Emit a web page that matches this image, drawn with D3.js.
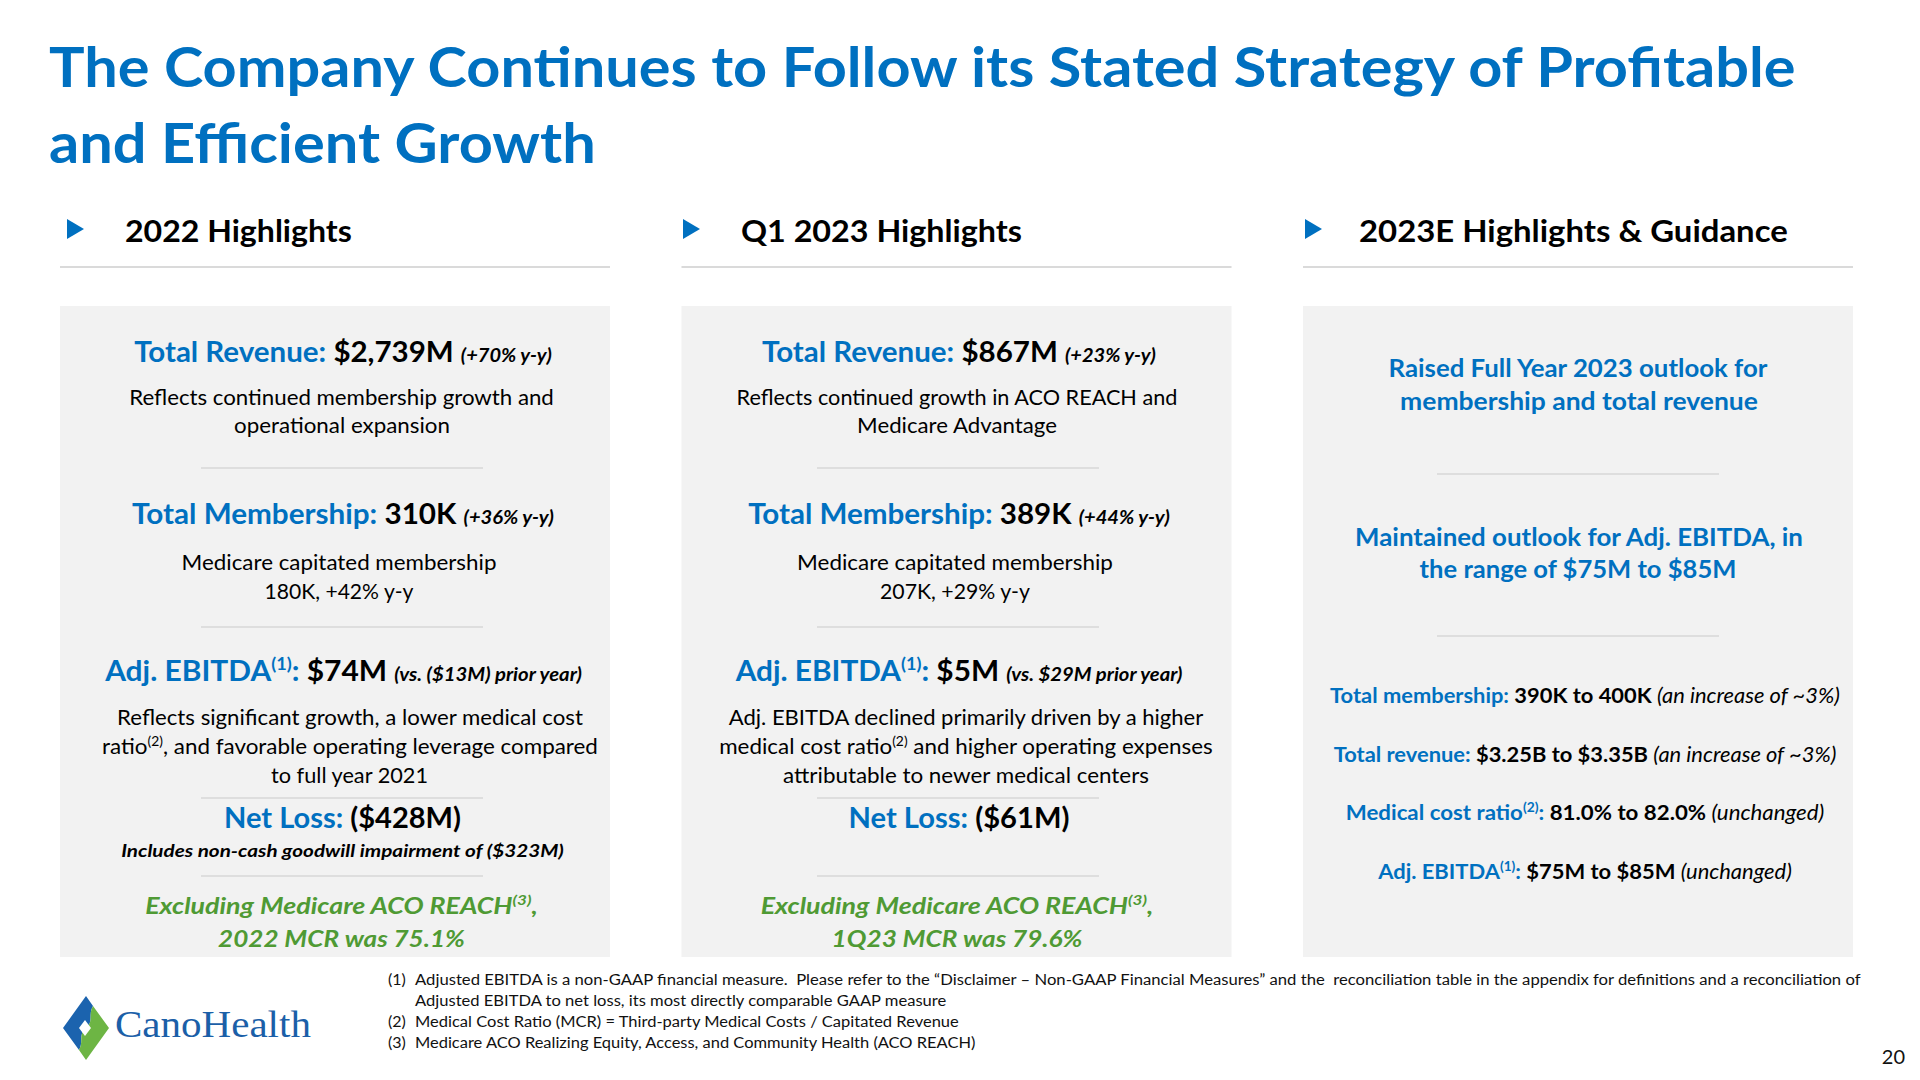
<!DOCTYPE html>
<html>
<head>
<meta charset="utf-8">
<script src="https://cdn.jsdelivr.net/npm/d3@7"></script>
<style>
  html, body { margin: 0; padding: 0; background: #fff; }
  svg { display: block; }
  text { white-space: pre; font-family: Lato, "Open Sans", sans-serif; }
</style>
</head>
<body>
<svg id="slide" width="1920" height="1080"></svg>
<script>
// ---------------- content ----------------
const titleLines = [
  "The Company Continues to Follow its Stated Strategy of Profitable",
  "and Efficient Growth"
];
const sectionHeaders = ["2022 Highlights", "Q1 2023 Highlights", "2023E Highlights & Guidance"];

const highlights2022 = [
  [["Total Revenue: ", "L"], ["$2,739M ", "V"], ["(+70% y-y)", "I"]],
  [["Reflects continued membership growth and", "R"]],
  [["operational expansion", "R"]],
  [["Total Membership: ", "L"], ["310K ", "V"], ["(+36% y-y)", "I"]],
  [["Medicare capitated membership", "R"]],
  [["180K, +42% y-y", "R"]],
  [["Adj. EBITDA", "L"], ["(1)", "LS"], [": ", "L"], ["$74M ", "V"], ["(vs. ($13M) prior year)", "I"]],
  [["Reflects significant growth, a lower medical cost", "R"]],
  [["ratio", "R"], ["(2)", "RS"], [", and favorable operating leverage compared", "R"]],
  [["to full year 2021", "R"]],
  [["Net Loss: ", "L"], ["($428M)", "V"]],
  [["Includes non-cash goodwill impairment of ($323M)", "B"]],
  [["Excluding Medicare ACO REACH", "G"], ["(3)", "GS"], [",", "G"]],
  [["2022 MCR was 75.1%", "G"]]
];

const highlightsQ1 = [
  [["Total Revenue: ", "L"], ["$867M ", "V"], ["(+23% y-y)", "I"]],
  [["Reflects continued growth in ACO REACH and", "R"]],
  [["Medicare Advantage", "R"]],
  [["Total Membership: ", "L"], ["389K ", "V"], ["(+44% y-y)", "I"]],
  [["Medicare capitated membership", "R"]],
  [["207K, +29% y-y", "R"]],
  [["Adj. EBITDA", "L"], ["(1)", "LS"], [": ", "L"], ["$5M ", "V"], ["(vs. $29M prior year)", "I"]],
  [["Adj. EBITDA declined primarily driven by a higher", "R"]],
  [["medical cost ratio", "R"], ["(2)", "RS"], [" and higher operating expenses", "R"]],
  [["attributable to newer medical centers", "R"]],
  [["Net Loss: ", "L"], ["($61M)", "V"]],
  [["Excluding Medicare ACO REACH", "G"], ["(3)", "GS"], [",", "G"]],
  [["1Q23 MCR was 79.6%", "G"]]
];

const guidance2023 = [
  [["Raised Full Year 2023 outlook for", "H"]],
  [["membership and total revenue", "H"]],
  [["Maintained outlook for Adj. EBITDA, in", "H"]],
  [["the range of $75M to $85M", "H"]],
  [["Total membership: ", "L3"], ["390K to 400K ", "V3"], ["(an increase of ~3%)", "N3"]],
  [["Total revenue: ", "L3"], ["$3.25B to $3.35B ", "V3"], ["(an increase of ~3%)", "N3"]],
  [["Medical cost ratio", "L3"], ["(2)", "L3S"], [": ", "L3"], ["81.0% to 82.0% ", "V3"], ["(unchanged)", "N3"]],
  [["Adj. EBITDA", "L3"], ["(1)", "L3S"], [": ", "L3"], ["$75M to $85M ", "V3"], ["(unchanged)", "N3"]]
];

const footnoteMarks = ["(1)", "", "(2)", "(3)"];
const footnoteTexts = [
  "Adjusted EBITDA is a non-GAAP financial measure.  Please refer to the \u201CDisclaimer \u2013 Non-GAAP Financial Measures\u201D and the  reconciliation table in the appendix for definitions and a reconciliation of",
  "Adjusted EBITDA to net loss, its most directly comparable GAAP measure",
  "Medical Cost Ratio (MCR) = Third-party Medical Costs / Capitated Revenue",
  "Medicare ACO Realizing Equity, Access, and Community Health (ACO REACH)"
];
const logoText = "CanoHealth";
const pageNumber = "20";

// ---------------- styles ----------------
const BLUE = "#0070C0", GREEN = "#4F9A34", GREY_LINE = "#DADADA", PANEL = "#F2F2F2";
const STY = {
  L:   {fs: 28, w: 700, fill: BLUE},
  V:   {fs: 28, w: 700, fill: "#000"},
  I:   {fs: 19, w: 700, it: true, fill: "#000"},
  LS:  {fs: 17, w: 700, fill: BLUE, sup: 11},
  R:   {fs: 21, w: 400, fill: "#000"},
  RS:  {fs: 13, w: 400, fill: "#000", sup: 8},
  B:   {fs: 17, w: 700, it: true, fill: "#000"},
  G:   {fs: 22, w: 700, it: true, fill: GREEN},
  GS:  {fs: 14, w: 700, it: true, fill: GREEN, sup: 9},
  H:   {fs: 24, w: 700, fill: BLUE},
  L3:  {fs: 21, w: 700, fill: BLUE},
  V3:  {fs: 21, w: 700, fill: "#000"},
  N3:  {fs: 21, w: 400, it: true, fill: "#000"},
  L3S: {fs: 13, w: 700, fill: BLUE, sup: 8}
};

const svg = d3.select("#slide");
svg.append("rect").attr("width", 1920).attr("height", 1080).attr("fill", "#fff");

// draw a rich text line, anchored at (x,y), squeezed/stretched to targetW
function richLine(parent, segs, x, y, targetW, anchor) {
  const g = parent.append("g");
  const t = g.append("text").attr("text-anchor", anchor || "middle");
  let cur = 0;
  segs.forEach(([txt, k]) => {
    const s = STY[k];
    const want = s.sup ? -s.sup : 0;
    t.append("tspan")
      .attr("dy", want - cur)
      .attr("font-size", s.fs)
      .attr("font-weight", s.w)
      .attr("font-style", s.it ? "italic" : "normal")
      .attr("fill", s.fill)
      .text(txt);
    cur = want;
  });
  const w = t.node().getComputedTextLength();
  const sx = targetW && w > 0 ? targetW / w : 1;
  g.attr("transform", `translate(${x},${y}) scale(${sx},1)`);
  return g;
}
function plainLine(parent, txt, x, y, targetW, opts) {
  const g = parent.append("g");
  const t = g.append("text")
    .attr("text-anchor", opts.anchor || "start")
    .attr("font-size", opts.fs)
    .attr("font-weight", opts.w || 400)
    .attr("fill", opts.fill || "#000")
    .style("font-family", opts.family || null)
    .text(txt);
  const w = t.node().getComputedTextLength();
  const sx = targetW && w > 0 ? targetW / w : 1;
  g.attr("transform", `translate(${x},${y}) scale(${sx},1)`);
  return g;
}

// ---------------- title ----------------
const titleW = [1747, 547], titleY = [87, 163];
titleLines.forEach((l, i) => plainLine(svg, l, 49, titleY[i], titleW[i], {fs: 56, w: 700, fill: BLUE}));

// ---------------- columns ----------------
const colX = d3.scalePoint().domain(d3.range(3)).range([60, 1303]);
const colW = 550;
const triX = [67, 683, 1305], headX = [125, 741, 1359], headW = [227, 281, 429];

sectionHeaders.forEach((h, i) => {
  const tx = triX[i];
  svg.append("path").attr("d", `M${tx},219 L${tx},239 L${tx + 17},229 Z`).attr("fill", BLUE);
  plainLine(svg, h, headX[i], 242, headW[i], {fs: 30, w: 700, fill: "#000"});
  svg.append("line").attr("x1", colX(i)).attr("x2", colX(i) + colW)
    .attr("y1", 267).attr("y2", 267).attr("stroke", GREY_LINE).attr("stroke-width", 2);
  svg.append("rect").attr("x", colX(i)).attr("y", 306).attr("width", colW).attr("height", 651).attr("fill", PANEL);
});

function separators(cx, ys, w) {
  ys.forEach(y => svg.append("line").attr("x1", cx - w / 2).attr("x2", cx + w / 2)
    .attr("y1", y).attr("y2", y).attr("stroke", "#DEDEDE").attr("stroke-width", 2));
}

// column 1
separators(342, [468, 627, 798, 876], 282);
const c1Y = [362, 405, 433, 524, 570, 599, 681, 725, 754, 783, 828, 857, 914, 947];
const c1W = [418, 425, 216, 422, 315, 149, 477, 466, 496, 157, 237, 443, 393, 247];
const c1X = [343, 341.5, 342, 343, 339, 339, 343.5, 350, 350, 349.5, 342.5, 342.5, 341.5, 341.5];
highlights2022.forEach((segs, i) => richLine(svg, segs, c1X[i], c1Y[i], c1W[i]));

// column 2
separators(958, [468, 627, 798, 876], 282);
const c2Y = [362, 405, 433, 524, 570, 599, 681, 725, 754, 783, 828, 914, 947];
const c2W = [394, 441, 200, 422, 316, 150, 447, 475, 494, 366, 221, 393, 251];
const c2X = [959, 957, 957, 959, 955, 955, 959, 966, 966, 966, 959, 957, 957];
highlightsQ1.forEach((segs, i) => richLine(svg, segs, c2X[i], c2Y[i], c2W[i]));

// column 3
separators(1578, [474, 636], 282);
const c3Y = [377, 410, 546, 578, 703, 762, 820, 879];
const c3W = [379, 358, 448, 317, 510, 503, 479, 414];
const c3X = [1578, 1579, 1579, 1578, 1585, 1585, 1585, 1585];
guidance2023.forEach((segs, i) => richLine(svg, segs, c3X[i], c3Y[i], c3W[i]));

// ---------------- footnotes ----------------
const fnY = [985, 1006, 1027, 1048], fnW = [1446, 532, 544, 561];
footnoteMarks.forEach((m, i) => {
  if (m) plainLine(svg, m, 388, fnY[i], null, {fs: 16, fill: "#111"});
  plainLine(svg, footnoteTexts[i], 415, fnY[i], fnW[i], {fs: 16, fill: "#111"});
});
plainLine(svg, pageNumber, 1905, 1064, null, {fs: 20, fill: "#111", anchor: "end"});

// ---------------- logo ----------------
const logo = svg.append("g");
logo.append("path")
  .attr("d", "M93,1006 L86,996 L63,1028 L79,1050 C84,1042 78,1034 86,1028 C94,1022 88,1014 93,1006 Z")
  .attr("fill", "#1B63AE");
logo.append("path")
  .attr("d", "M93,1006 L109,1028 L86,1060 L79,1050 C84,1042 78,1034 86,1028 C94,1022 88,1014 93,1006 Z")
  .attr("fill", "#6DB544");
logo.append("path").attr("d", "M85,1020 L91,1028 L85,1036 L79,1028 Z").attr("fill", "#fff");
plainLine(svg, logoText, 115, 1037, 196, {fs: 38, fill: "#1B5FA8", family: "'Liberation Serif', serif"});
</script>
</body>
</html>
